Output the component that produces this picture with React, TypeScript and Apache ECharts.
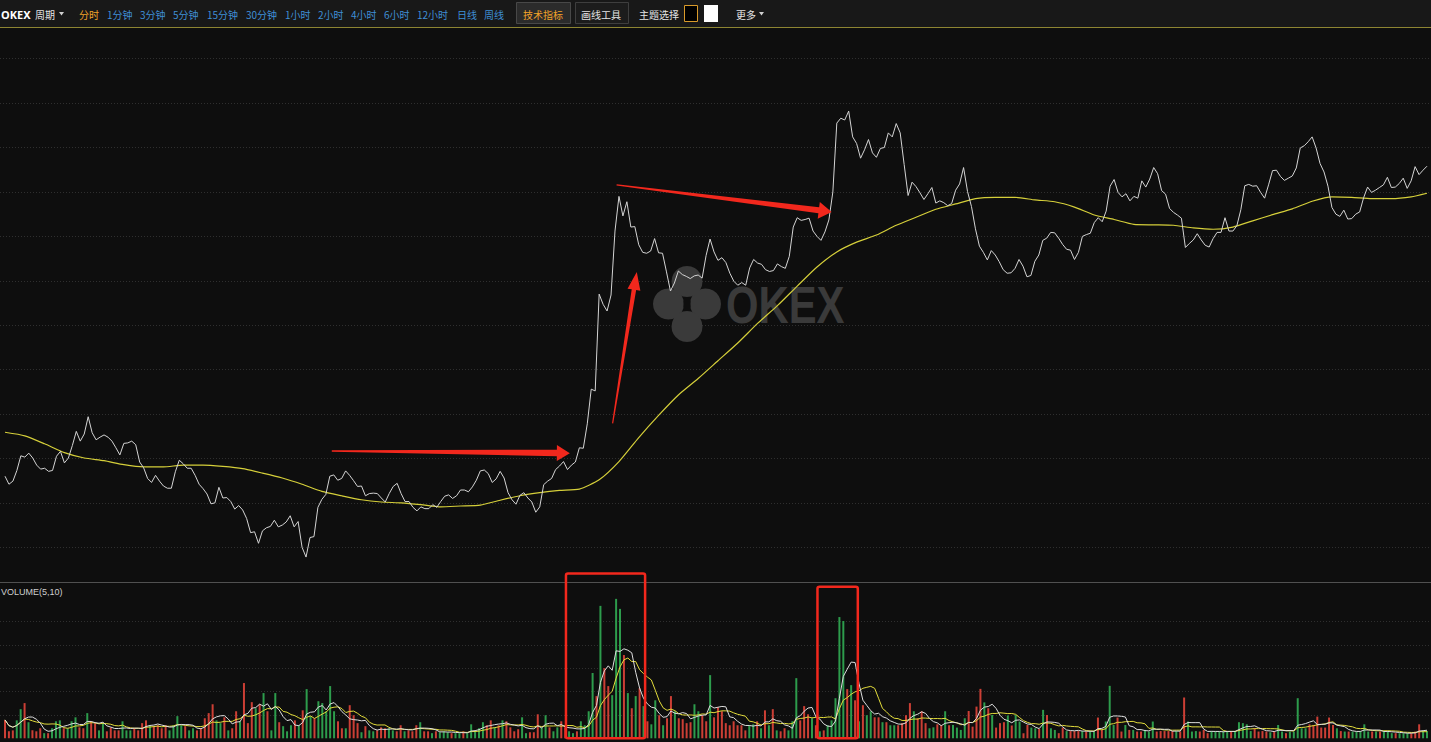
import React, { useEffect, useRef } from "react";
import * as echarts from "echarts";

// ---------------- data ----------------
// price per tick (one value per minute bar)
const PRICE: number[] = [
  6516.0, 6514.2, 6514.9, 6517.3, 6520.6, 6520.3, 6521.2, 6520.1, 6518.5, 6517.6,
  6517.8, 6517.1, 6517.3, 6520.5, 6521.6, 6519.0, 6520.1, 6522.9, 6526.1, 6523.9,
  6525.5, 6529.4, 6525.8, 6524.2, 6524.8, 6525.3, 6524.8, 6523.9, 6522.4, 6520.8,
  6523.4, 6523.5, 6523.9, 6523.1, 6519.2, 6517.9, 6515.5, 6514.6, 6516.2, 6514.9,
  6513.8, 6513.3, 6513.3, 6517.0, 6519.6, 6518.8, 6517.8, 6517.8, 6516.2, 6514.2,
  6513.2, 6512.0, 6509.8, 6510.0, 6513.5, 6511.1, 6511.2, 6510.3, 6508.6, 6509.4,
  6508.4, 6506.5, 6503.3, 6503.5, 6500.9, 6503.7, 6504.4, 6504.7, 6506.1, 6504.6,
  6505.0, 6505.7, 6507.1, 6504.6, 6505.8, 6500.0, 6497.8, 6502.2, 6502.4, 6509.0,
  6510.8, 6511.9, 6516.0, 6516.3, 6515.1, 6515.5, 6517.2, 6516.2, 6515.0, 6513.7,
  6513.8, 6511.6, 6512.1, 6512.2, 6512.1, 6511.1, 6510.2, 6512.1, 6513.7, 6514.4,
  6512.1, 6510.3, 6510.3, 6509.0, 6508.2, 6509.1, 6508.7, 6508.7, 6509.6, 6509.0,
  6510.3, 6511.5, 6511.8, 6511.0, 6511.6, 6512.9, 6512.9, 6512.5, 6513.6, 6515.1,
  6517.2, 6517.4, 6516.6, 6514.6, 6515.4, 6517.1, 6515.6, 6512.3, 6510.7, 6509.7,
  6511.7, 6512.3, 6511.1, 6510.2, 6507.9, 6509.1, 6514.1, 6514.9, 6515.5, 6517.5,
  6518.3, 6519.3, 6517.5, 6518.5, 6519.2, 6522.4, 6522.3, 6527.8, 6535.6, 6535.2,
  6557.0, 6554.7, 6553.2, 6556.8, 6571.2, 6579.0, 6574.6, 6577.8, 6572.1, 6572.2,
  6568.1, 6566.4, 6566.2, 6566.7, 6569.5, 6566.3, 6566.2, 6562.0, 6557.7, 6559.5,
  6562.2, 6561.4, 6561.0, 6560.5, 6561.1, 6561.3, 6560.6, 6565.7, 6569.4, 6566.5,
  6564.6, 6565.2, 6564.1, 6561.7, 6559.9, 6559.0, 6559.6, 6559.0, 6562.9, 6564.8,
  6564.0, 6563.7, 6562.5, 6562.1, 6562.3, 6563.8, 6563.2, 6562.8, 6565.5, 6572.1,
  6574.2, 6573.6, 6573.8, 6574.1, 6571.2, 6570.0, 6569.1, 6571.0, 6573.7, 6580.0,
  6595.5, 6596.6, 6596.2, 6598.2, 6592.4, 6590.9, 6587.6, 6589.5, 6591.8, 6588.8,
  6587.8, 6589.8, 6590.0, 6593.3, 6592.4, 6595.4, 6593.3, 6586.2, 6579.2, 6582.2,
  6581.2, 6579.8, 6578.3, 6579.6, 6581.0, 6577.5, 6578.0, 6577.6, 6576.9, 6577.4,
  6580.4, 6581.8, 6585.5, 6580.1, 6576.7, 6571.7, 6567.8, 6566.4, 6564.7, 6566.8,
  6565.8, 6564.3, 6562.5, 6561.7, 6561.8, 6562.8, 6564.8, 6563.3, 6560.9, 6561.2,
  6564.4, 6565.8, 6569.1, 6569.6, 6570.9, 6570.8, 6569.6, 6568.2, 6567.1, 6566.9,
  6564.8, 6566.4, 6570.0, 6570.4, 6570.7, 6573.1, 6574.2, 6573.3, 6575.7, 6581.3,
  6582.8, 6579.9, 6578.9, 6579.6, 6578.0, 6579.0, 6578.6, 6582.5, 6581.1, 6582.9,
  6585.5, 6584.1, 6580.3, 6579.5, 6576.3, 6575.4, 6574.8, 6574.1, 6567.5, 6568.4,
  6569.2, 6570.6, 6569.2, 6568.0, 6567.6, 6569.5, 6570.9, 6570.9, 6574.2, 6571.2,
  6571.2, 6572.4, 6576.0, 6581.4, 6581.7, 6581.3, 6581.4, 6579.9, 6578.6, 6581.6,
  6584.8, 6584.9, 6583.5, 6582.6, 6583.1, 6583.6, 6585.4, 6589.9, 6590.4, 6591.3,
  6592.4, 6589.9, 6586.4, 6584.5, 6581.3, 6576.5, 6575.0, 6574.5, 6575.9, 6573.9,
  6574.0, 6575.0, 6575.5, 6578.7, 6581.1, 6579.9, 6580.4, 6581.0, 6581.6, 6583.3,
  6581.0, 6581.1, 6581.9, 6583.1, 6580.8, 6582.5, 6585.7, 6583.9, 6584.9, 6585.8,
];

// long moving average of price (yellow), read every 5 ticks
const PRICE_MA_IDX: number[] = [
  0, 5, 10, 15, 20, 25, 30, 35, 40, 45, 50, 55, 60, 65, 70, 75, 80, 85, 90, 95,
  100, 105, 110, 115, 120, 125, 130, 135, 140, 145, 150, 155, 160, 165, 170, 175, 180, 185, 190, 195,
  200, 205, 210, 215, 220, 225, 230, 235, 240, 245, 250, 255, 260, 265, 270, 275, 280, 285, 290, 295,
  300, 305, 310, 315, 320, 325, 330, 335, 340, 345, 350, 355, 359,
];
const PRICE_MA: number[] = [
  6525.9, 6525.1, 6523.3, 6521.3, 6520.1, 6519.5, 6518.6, 6518.1, 6518.1, 6518.5,
  6518.5, 6518.2, 6517.7, 6516.7, 6515.6, 6514.2, 6512.6, 6511.6, 6510.7, 6510.2,
  6510.0, 6509.6, 6509.1, 6509.3, 6509.5, 6510.6, 6511.6, 6512.3, 6512.8, 6513.1,
  6515.2, 6519.3, 6524.7, 6529.7, 6534.3, 6538.0, 6542.0, 6546.0, 6550.4, 6554.4,
  6558.8, 6563.1, 6566.5, 6568.7, 6570.3, 6572.5, 6574.3, 6576.1, 6577.3, 6578.5,
  6578.8, 6578.8, 6578.2, 6577.8, 6576.6, 6574.8, 6573.8, 6572.7, 6572.6, 6572.5,
  6571.9, 6571.6, 6572.1, 6573.5, 6574.9, 6576.2, 6577.9, 6578.9, 6578.8, 6578.5,
  6578.5, 6578.9, 6579.7,
];

// traded volume per bar
const VOLUME: number[] = [
  79, 30, 34, 77, 125, 151, 69, 34, 30, 43,
  22, 22, 43, 73, 77, 43, 43, 73, 90, 47,
  43, 108, 73, 65, 34, 65, 30, 47, 34, 34,
  73, 34, 34, 43, 34, 65, 77, 56, 52, 56,
  43, 56, 34, 56, 95, 56, 52, 34, 43, 34,
  43, 86, 108, 146, 77, 65, 90, 34, 43, 116,
  73, 237, 65, 155, 129, 146, 194, 116, 34, 194,
  69, 52, 30, 56, 77, 56, 120, 211, 95, 86,
  159, 151, 116, 224, 116, 73, 43, 43, 142, 99,
  65, 26, 52, 34, 30, 34, 47, 43, 43, 34,
  30, 56, 30, 34, 30, 56, 69, 30, 30, 22,
  30, 26, 30, 26, 22, 22, 22, 30, 22, 60,
  30, 43, 69, 56, 77, 47, 56, 77, 73, 47,
  30, 39, 90, 22, 26, 26, 103, 47, 99, 47,
  30, 47, 73, 47, 30, 22, 30, 73, 56, 116,
  280, 181, 568, 301, 224, 185, 598, 555, 357, 194,
  129, 181, 215, 138, 73, 60, 163, 99, 56, 86,
  181, 116, 86, 82, 65, 69, 146, 116, 99, 73,
  271, 90, 133, 116, 65, 56, 73, 56, 56, 34,
  56, 60, 73, 43, 120, 56, 125, 34, 30, 43,
  34, 73, 258, 77, 138, 103, 86, 56, 30, 34,
  56, 77, 172, 520, 503, 211, 228, 163, 73, 142,
  99, 116, 90, 90, 69, 69, 56, 56, 56, 65,
  99, 151, 116, 86, 116, 65, 43, 47, 60, 56,
  116, 56, 57, 46, 36, 86, 117, 50, 136, 212,
  154, 129, 100, 46, 65, 69, 98, 55, 100, 72,
  22, 57, 46, 43, 40, 122, 100, 43, 36, 22,
  46, 31, 31, 31, 31, 31, 29, 29, 29, 89,
  36, 72, 225, 57, 89, 29, 57, 36, 36, 29,
  29, 36, 29, 72, 29, 31, 31, 31, 31, 31,
  29, 175, 72, 29, 31, 29, 36, 22, 31, 29,
  29, 29, 29, 31, 29, 69, 65, 60, 31, 43,
  29, 31, 29, 26, 29, 57, 29, 22, 29, 29,
  172, 43, 43, 60, 57, 93, 46, 46, 89, 57,
  43, 31, 29, 29, 29, 29, 31, 60, 29, 29,
  29, 29, 29, 31, 22, 22, 22, 22, 22, 22,
  29, 60, 31, 31,
];
// bar direction: G = rising (green), R = falling (red)
const VOL_DIR: string =
  "RRRGGRGRRR" + "GRGGGRGGGR" + "RGRRGGRRRR" + "GGGRRRRGRR" + "RRGGGGRGGR" +
  "RRRRGGRGRR" + "GRRRGRGRGG" + "RGGGRGRGGR" + "GGGGGRRGRR" + "RGRGGRRRGG" +
  "RRGRRRGRRG" + "RGGGRGGRGG" + "GGGRRGRGRR" + "RRGGRRRGGR" + "GGRRGGRGGG" +
  "GRGRRGGGRG" + "RGRGRGGRGR" + "RGRRRRGGRR" + "GRRRRRRRRR" + "GGRGRGRGRR" +
  "GGGRRRGRGR" + "GGGGGRGRGR" + "GGRRGRGGRR" + "RRGRRRGGRR" + "GRGGGGRRRR" +
  "GRGRRRGRGG" + "RRGGRGRGGR" + "RGRRRGRGGR" + "RGGGRRGRGR" + "RGGGRRRRRG" +
  "RRGGGRRRGG" + "GGGRGGGGGR" + "RRRGRGGRGG" + "GGGRRRRRRR" + "GRGRGGGGGR" +
  "GRGGGRGGGR" + "RRGG";

// axis ticks
const PRICE_MIN = 6500;
const PRICE_MAX = 6610;
const PRICE_STEP = 10;
const VOL_MIN = 0;
const VOL_MAX = 600;
const VOL_STEP = 100;

// toolbar labels
const PERIODS: string[] = ["分时", "1分钟", "3分钟", "5分钟", "15分钟", "30分钟", "1小时", "2小时", "4小时", "6小时", "12小时", "日线", "周线"];
const VOLUME_TITLE = "VOLUME(5,10)";

// annotations in data coordinates
const ARROWS = [
  { from: [82.5, 6521.7], to: [142.6, 6521.2], tail: 1.5, neck: 6.5, head: 13, half: 8 },
  { from: [153.4, 6527.9], to: [159.5, 6562.0], tail: 1.2, neck: 4.5, head: 18, half: 6.5 },
  { from: [154.4, 6581.6], to: [208.7, 6575.5], tail: 1.2, neck: 6, head: 13, half: 8.5 },
];
const VOL_BOXES = [
  { x0: 143.2, x1: 163.4, top: 707 },
  { x0: 207.4, x1: 217.7, top: 650 },
];

// ---------------- styling ----------------
const W = 1431;
const H = 742;
const BG = "#0e0e0e";
const UP = "#2d9c4c";
const DOWN = "#cc3f35";
const MARK = "#f2281d";
const FONT = "'Noto Sans CJK SC', 'Noto Sans', sans-serif";
const PERIOD_X = [79, 107, 140, 173, 207, 246, 285, 318, 351, 384, 417, 457, 484];

function movingAverage(values: number[], n: number): number[] {
  return values.map((_, i) => {
    const s = Math.max(0, i - n + 1);
    let sum = 0;
    for (let k = s; k <= i; k++) sum += values[k];
    return Math.round((sum / (i - s + 1)) * 10) / 10;
  });
}

function arrowPoints(t: number[], p: number[], tailW: number, neckW: number, headLen: number, headHalf: number) {
  const dx = p[0] - t[0];
  const dy = p[1] - t[1];
  const L = Math.hypot(dx, dy) || 1;
  const ux = dx / L, uy = dy / L;
  const nx = -uy, ny = ux;
  const bx = p[0] - ux * headLen, by = p[1] - uy * headLen;
  return [
    [t[0] + nx * tailW / 2, t[1] + ny * tailW / 2],
    [bx + nx * neckW / 2, by + ny * neckW / 2],
    [bx + nx * headHalf, by + ny * headHalf],
    [p[0], p[1]],
    [bx - nx * headHalf, by - ny * headHalf],
    [bx - nx * neckW / 2, by - ny * neckW / 2],
    [t[0] - nx * tailW / 2, t[1] - ny * tailW / 2],
  ];
}

function txt(text: string, x: number, y: number, fill: string, size: number, extra: any = {}) {
  return {
    type: "text",
    x,
    y,
    z: 50,
    style: {
      text,
      fill,
      fontSize: size,
      fontFamily: FONT,
      align: "left",
      verticalAlign: "middle",
      textAlign: "left",
      textVerticalAlign: "middle",
      ...extra,
    },
  };
}

function baseGraphics(): any[] {
  const g: any[] = [];
  // toolbar
  g.push({ type: "rect", z: 40, shape: { x: 0, y: 0, width: W, height: 27 }, style: { fill: "#181818" } });
  g.push({ type: "line", z: 41, shape: { x1: 0, y1: 27.5, x2: W, y2: 27.5 }, style: { stroke: "#8d8532", lineWidth: 1 } });
  g.push(txt("OKEX", 1, 14, "#ffffff", 11, { fontWeight: "bold", fontFamily: "'Noto Sans', sans-serif" }));
  g.push(txt("周期", 35, 14, "#e4e4e4", 10));
  g.push({ type: "polygon", z: 50, shape: { points: [[59, 12], [64, 12], [61.5, 15.5]] }, style: { fill: "#cfcfcf" } });
  PERIODS.forEach((p, i) => {
    g.push(txt(p, PERIOD_X[i], 14, i === 0 ? "#f0a229" : "#3f8fd6", 10));
  });
  g.push({ type: "rect", z: 45, shape: { x: 516.5, y: 2.5, width: 54, height: 21 }, style: { fill: "#2b2b2b", stroke: "#484848", lineWidth: 1 } });
  g.push(txt("技术指标", 523, 14, "#f0a229", 10));
  g.push({ type: "rect", z: 45, shape: { x: 575.5, y: 2.5, width: 53, height: 21 }, style: { fill: "#1c1c1c", stroke: "#3e3e3e", lineWidth: 1 } });
  g.push(txt("画线工具", 581, 14, "#e4e4e4", 10));
  g.push(txt("主题选择", 639, 14, "#e4e4e4", 10));
  g.push({ type: "rect", z: 45, shape: { x: 684.5, y: 5.5, width: 13, height: 16 }, style: { fill: "#000000", stroke: "#d99a2a", lineWidth: 1 } });
  g.push({ type: "rect", z: 45, shape: { x: 704, y: 5, width: 14, height: 17 }, style: { fill: "#ffffff" } });
  g.push(txt("更多", 736, 14, "#e4e4e4", 10));
  g.push({ type: "polygon", z: 50, shape: { points: [[759, 12], [764, 12], [761.5, 15.5]] }, style: { fill: "#cfcfcf" } });
  // pane separator
  g.push({ type: "line", z: 5, shape: { x1: 0, y1: 582.5, x2: W, y2: 582.5 }, style: { stroke: "#505050", lineWidth: 1 } });
  g.push(txt(VOLUME_TITLE, 1, 591.5, "#cfcfcf", 9, { fontFamily: "'Liberation Sans', sans-serif" }));
  // watermark
  const cx = 687, cy = 304;
  [[-18.5, 0], [18.5, 0], [0, -22.5], [0, 22.5]].forEach(([ox, oy]) => {
    g.push({ type: "circle", z: 1, shape: { cx: cx + ox, cy: cy + oy, r: 15.5 }, style: { fill: "#3a3a3a" } });
  });
  g.push({ type: "rect", z: 1, shape: { x: cx - 3.5, y: cy - 3.5, width: 7, height: 7 }, style: { fill: BG } });
  g.push({
    type: "text",
    z: 1,
    x: 726,
    y: 306,
    scaleX: 0.82,
    scaleY: 1,
    style: {
      text: "OKEX",
      fill: "#3a3a3a",
      fontSize: 51,
      fontWeight: "bold",
      fontFamily: "'Liberation Sans', 'DejaVu Sans', sans-serif",
      align: "left",
      verticalAlign: "middle",
      textAlign: "left",
      textVerticalAlign: "middle",
    },
  });
  return g;
}

export default function App() {
  const ref = useRef<HTMLDivElement>(null);

  useEffect(() => {
    document.body.style.margin = "0";
    document.body.style.background = BG;
    const el = ref.current;
    if (!el) return;
    const chart = echarts.init(el, null, { renderer: "svg" });
    const ma5 = movingAverage(VOLUME, 5);
    const ma10 = movingAverage(VOLUME, 10);
    const nP = PRICE.length;
    const nV = VOLUME.length;
    // first point at x=5, last at x=1427 (pixels), full-width grids
    const pStep = 1422 / (nP - 1);
    const pMin = -5 / pStep;
    const pMax = pMin + W / pStep;
    const vStep = 1422 / (nV - 1);
    const vMin = -5 / vStep;
    const vMax = vMin + W / vStep;

    const splitStyle = { color: "#2f2f2f", width: 1, type: [1, 2] };

    chart.setOption({
      animation: false,
      backgroundColor: BG,
      grid: [
        { left: 0, right: 0, top: 58.7, bottom: H - 547.3 },
        { left: 0, right: 0, top: 598.4, bottom: H - 738.3 },
      ],
      xAxis: [
        { type: "value", gridIndex: 0, min: pMin, max: pMax, show: false, splitLine: { show: false } },
        { type: "value", gridIndex: 1, min: vMin, max: vMax, show: false, splitLine: { show: false } },
      ],
      yAxis: [
        {
          type: "value", gridIndex: 0, min: PRICE_MIN, max: PRICE_MAX, interval: PRICE_STEP,
          axisLine: { show: false }, axisTick: { show: false }, axisLabel: { show: false },
          splitLine: { show: true, lineStyle: splitStyle },
        },
        {
          type: "value", gridIndex: 1, min: VOL_MIN, max: VOL_MAX, interval: VOL_STEP,
          axisLine: { show: false }, axisTick: { show: false }, axisLabel: { show: false },
          splitLine: { show: true, showMinLine: false, showMaxLine: false, lineStyle: splitStyle },
        },
      ],
      series: [
        {
          name: "price", type: "line", xAxisIndex: 0, yAxisIndex: 0, z: 4,
          data: PRICE.map((v, i) => [i, v]),
          showSymbol: false, symbol: "none", clip: false,
          lineStyle: { color: "#d4d4d4", width: 1 },
        },
        {
          name: "MA", type: "line", xAxisIndex: 0, yAxisIndex: 0, z: 3,
          data: PRICE_MA_IDX.map((x, k) => [x, PRICE_MA[k]]),
          showSymbol: false, symbol: "none", clip: false,
          smooth: 0.2,
          lineStyle: { color: "#d5cf3a", width: 1.2 },
        },
        {
          name: "volume", type: "bar", xAxisIndex: 1, yAxisIndex: 1, z: 3,
          barWidth: 2,
          data: VOLUME.map((v, j) => ({ value: [j, v], itemStyle: { color: VOL_DIR[j] === "G" ? UP : DOWN } })),
        },
        {
          name: "MA5", type: "line", xAxisIndex: 1, yAxisIndex: 1, z: 5,
          data: ma5.map((v, j) => [j, v]),
          showSymbol: false, symbol: "none",
          lineStyle: { color: "#dedede", width: 1 },
        },
        {
          name: "MA10", type: "line", xAxisIndex: 1, yAxisIndex: 1, z: 4,
          data: ma10.map((v, j) => [j, v]),
          showSymbol: false, symbol: "none",
          lineStyle: { color: "#e3dd3c", width: 1 },
        },
      ],
      graphic: [],
    });

    const graphics = baseGraphics();
    ARROWS.forEach((a) => {
      const t = chart.convertToPixel({ gridIndex: 0 } as any, a.from) as number[];
      const p = chart.convertToPixel({ gridIndex: 0 } as any, a.to) as number[];
      graphics.push({
        type: "polygon", z: 100,
        shape: { points: arrowPoints(t, p, a.tail, a.neck, a.head, a.half) },
        style: { fill: MARK },
      });
    });
    VOL_BOXES.forEach((b) => {
      const p0 = chart.convertToPixel({ gridIndex: 1 } as any, [b.x0, b.top]) as number[];
      const p1 = chart.convertToPixel({ gridIndex: 1 } as any, [b.x1, 0]) as number[];
      graphics.push({
        type: "rect", z: 100,
        shape: { x: p0[0], y: p0[1], width: p1[0] - p0[0], height: p1[1] - p0[1], r: 2 },
        style: { fill: "none", stroke: MARK, lineWidth: 2.5 },
      });
    });
    chart.setOption({ graphic: graphics });

    return () => chart.dispose();
  }, []);

  return <div ref={ref} style={{ width: W, height: H, background: BG }} />;
}
